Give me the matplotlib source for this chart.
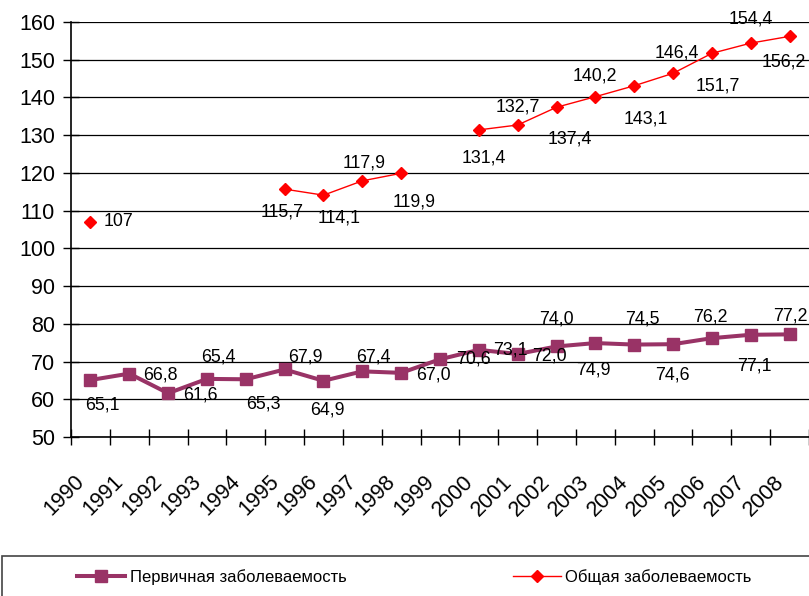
import matplotlib.pyplot as plt
import matplotlib.transforms as mtransforms
from matplotlib.patches import Rectangle
import numpy as np

years = [str(y) for y in range(1990, 2009)]
primary = [65.1, 66.8, 61.6, 65.4, 65.3, 67.9, 64.9, 67.4, 67.0, 70.6,
           73.1, 72.0, 74.0, 74.9, 74.5, 74.6, 76.2, 77.1, 77.2]
total = [107, np.nan, np.nan, np.nan, np.nan, 115.7, 114.1, 117.9, 119.9, np.nan,
         131.4, 132.7, 137.4, 140.2, 143.1, 146.4, 151.7, 154.4, 156.2]
primary_name = "Первичная заболеваемость"
total_name = "Общая заболеваемость"

# label offsets in pixels (dx, dy up)
primary_off = [(12, -25), (31, -1), (32, -2), (11, 22), (18, -25), (21, 12), (4, -29),
               (11, 14), (32, -2), (33, 0), (32, 0), (32, -2), (0, 27), (-2, -27),
               (8, 26), (-1, -31), (-2, 21), (4, -31), (1, 18)]
total_off = [(28, 0), None, None, None, None, (-3, -23), (16, -23), (2, 18), (13, -29),
             None, (5, -28), (0, 18), (13, -32), (0, 21), (12, -33), (4, 20), (6, -33),
             (0, 24), (-6, -26)]

plt.rcParams['font.family'] = ['Liberation Sans', 'DejaVu Sans']

fig = plt.figure(figsize=(8.09, 5.96), dpi=100)
ax = fig.add_axes([71/809, 1-437/596, 738/809, 415/596])

x = np.arange(len(years))
purple = '#993366'
ax.plot(x, primary, color=purple, lw=2.9, marker='s', ms=8.6, label=primary_name, zorder=3)
ax.plot(x, total, color='#ff0000', lw=1.0, marker='D', ms=6.5, label=total_name, zorder=3)

def fmt(v):
    if v == int(v) and v > 100:
        return str(int(v))
    return f"{v:.1f}".replace('.', ',')

for xi, v, off in zip(x, primary, primary_off):
    ax.annotate(fmt(v), (xi, v), xytext=off, textcoords='offset pixels',
                ha='center', va='center', fontsize=12.8)
for xi, v, off in zip(x, total, total_off):
    if off is None or np.isnan(v):
        continue
    ax.annotate(fmt(v), (xi, v), xytext=off, textcoords='offset pixels',
                ha='center', va='center', fontsize=12.8)

ax.set_xlim(-0.5, len(years) - 0.5)
ax.set_ylim(50, 160)
ax.set_yticks(range(50, 161, 10))
ax.yaxis.grid(True, color='black', lw=0.9)
ax.set_axisbelow(True)
for s in ['top', 'right']:
    ax.spines[s].set_visible(False)
for s in ['left', 'bottom']:
    ax.spines[s].set_linewidth(1.2)

ax.set_xticks(np.arange(-0.5, len(years), 1))
ax.set_xticklabels([])
ax.set_xticks(x, minor=True)
ax.set_xticklabels(years, minor=True, rotation=45, ha='right', va='center',
                   rotation_mode='anchor', fontsize=15.5)
ax.tick_params(axis='x', which='major', direction='inout', length=11.5, width=1)
ax.tick_params(axis='x', which='minor', length=0, pad=30)
ax.tick_params(axis='y', direction='inout', length=11, width=1, labelsize=15.5, pad=6)

shift = mtransforms.ScaledTranslation(-9/100, 0, fig.dpi_scale_trans)
for lab in ax.get_xticklabels(minor=True):
    lab.set_transform(lab.get_transform() + shift)

fig.patches.append(Rectangle((2/809, -0.01), 1.0, 1-556/596 + 0.01, transform=fig.transFigure,
                             fill=False, edgecolor='#444444', lw=1.2))
fig.legend(loc='center left', bbox_to_anchor=(77/809, 1-577/596), ncol=2, frameon=False,
           fontsize=12, handlelength=2.9, handletextpad=0.25, columnspacing=10.0,
           borderpad=0, borderaxespad=0)

fig.savefig('out.png', dpi=100)
